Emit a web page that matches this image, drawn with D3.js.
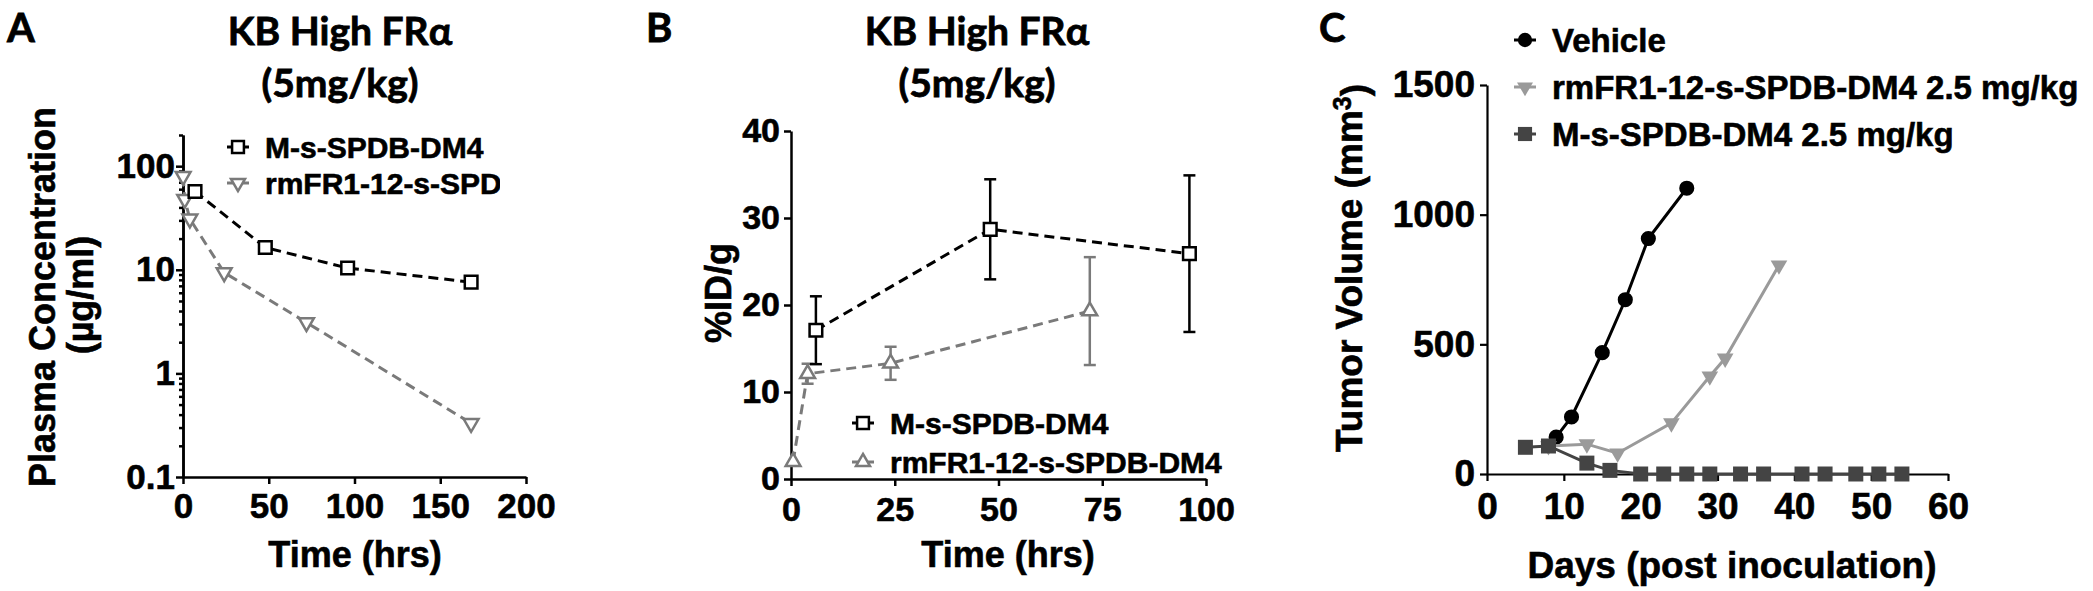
<!DOCTYPE html>
<html>
<head>
<meta charset="utf-8">
<script src="https://cdnjs.cloudflare.com/ajax/libs/d3/7.8.5/d3.min.js"></script>
<style>
body { margin: 0; background: #fff; }
svg text { font-family: "Liberation Sans", Arial, sans-serif; font-weight: bold; fill: #000; stroke: #000; stroke-width: 0.6px; }
svg text.ttl { font-family: Lato, "Open Sans", sans-serif; stroke-width: 0.8px; }
</style>
</head>
<body>
<script>
// panel A : plasma concentration, log axis
const namesA = ["M-s-SPDB-DM4", "rmFR1-12-s-SPDB-DM4"];
const timeA_M = [7, 48, 96, 168];
const concA_M = [57, 16.4, 10.4, 7.6];
const timeA_R = [0.08, 1, 4, 24, 72, 168];
const concA_R = [80, 48, 31, 9.4, 3.1, 0.33];
const ticksA_x = [0, 50, 100, 150, 200];
const ticksA_y = [0.1, 1, 10, 100];

// panel B : %ID/g with error bars
const namesB = ["M-s-SPDB-DM4", "rmFR1-12-s-SPDB-DM4"];
const timeB_M = [6, 48, 96];
const meanB_M = [17.1, 28.7, 25.9];
const sdB_M = [3.9, 5.75, 9.0];
const timeB_R = [0.5, 4, 24, 72];
const meanB_R = [2.0, 12.1, 13.3, 19.3];
const sdB_R = [0, 1.15, 1.9, 6.2];
const ticksB_x = [0, 25, 50, 75, 100];
const ticksB_y = [0, 10, 20, 30, 40];

// panel C : tumor volume
const namesC = ["Vehicle", "rmFR1-12-s-SPDB-DM4 2.5 mg/kg", "M-s-SPDB-DM4 2.5 mg/kg"];
const daysVeh = [9, 11, 15, 18, 21, 26];
const volVeh = [142, 220, 468, 672, 908, 1102];
const daysR = [8, 13, 17, 24, 29, 31, 38];
const volR = [108, 115, 80, 196, 377, 446, 805];
const daysM = [5, 8, 13, 16, 20, 23, 26, 29, 33, 36, 41, 44, 48, 51, 54];
const volM = [103, 108, 42, 14, 0, 0, 0, 0, 0, 0, 0, 0, 0, 0, 0];
const ticksC_x = [0, 10, 20, 30, 40, 50, 60];
const ticksC_y = [0, 500, 1000, 1500];

const GRAY = "#7a7a7a", LIGHT = "#9a9a9a", DARK = "#444";

let svg = d3.select("body").append("svg").attr("width", 2093).attr("height", 591);
svg.append("rect").attr("width", 2093).attr("height", 591).attr("fill", "#fff");

function styleAxis(g, fs, sw) {
    g.attr("font-family", null).attr("font-size", null);
    g.select(".domain").attr("stroke", "#000").attr("stroke-width", sw);
    g.selectAll(".tick line").attr("stroke", "#000").attr("stroke-width", sw);
    g.selectAll(".tick text").style("font-size", fs + "px");
}

function drawMarkers(g, xs, ys, x, y, type, size, stroke, fill, down) {
    g.selectAll(null).data(d3.zip(xs, ys)).join("path")
        .attr("d", d3.symbol().type(type).size(size))
        .attr("transform", d => "translate(" + x(d[0]) + "," + y(d[1]) + ")" + (down ? " rotate(180)" : ""))
        .attr("fill", fill).attr("stroke", stroke).attr("stroke-width", fill == "#fff" ? 2.5 : 0);
}

function drawLine(g, xs, ys, x, y, color, dash, w) {
    g.append("path").datum(d3.zip(xs, ys))
        .attr("d", d3.line().x(d => x(d[0])).y(d => y(d[1])))
        .attr("fill", "none").attr("stroke", color).attr("stroke-width", w)
        .attr("stroke-dasharray", dash);
}

function title(cx, lines) {
    lines.forEach((t, i) => {
        svg.append("text").attr("class", "ttl").attr("x", cx).attr("y", 45 + i * 52)
            .attr("text-anchor", "middle").style("font-size", "39px").text(t);
    });
}

function panelLetter(x, t) {
    svg.append("text").attr("class", "ttl").attr("x", x).attr("y", 42).style("font-size", "40px").text(t);
}

function legendRow(g, x, y, color, type, size, fill, down, label, fs) {
    g.append("line").attr("x1", x - 11).attr("x2", x + 11).attr("y1", y).attr("y2", y)
        .attr("stroke", color).attr("stroke-width", 3);
    g.append("path").attr("d", d3.symbol().type(type).size(size))
        .attr("transform", "translate(" + x + "," + y + ")" + (down ? " rotate(180)" : ""))
        .attr("fill", fill).attr("stroke", color).attr("stroke-width", fill == "#fff" ? 2.5 : 0);
    g.append("text").attr("x", x + 27).attr("y", y).attr("dy", "0.36em")
        .style("font-size", fs + "px").text(label);
}

// ---------- panel A ----------
let xA = d3.scaleLinear().domain([0, 200]).range([183, 526]);
let yA = d3.scaleLog().domain([0.1, 200]).range([477, 135]);
let minorA = [];
[0.1, 1, 10, 100].forEach(d => { for (let k = 2; k <= 9; k++) if (d * k <= 200) minorA.push(d * k); });

let gA = svg.append("g");
gA.append("g").attr("transform", "translate(183,0)")
    .call(d3.axisLeft(yA).tickValues(minorA).tickFormat("").tickSize(4).tickSizeOuter(0))
    .call(g => styleAxis(g, 35, 2.5));
gA.append("g").attr("transform", "translate(183,0)")
    .call(d3.axisLeft(yA).tickValues(ticksA_y).tickFormat(d => String(d)).tickSize(7).tickPadding(1).tickSizeOuter(0))
    .call(g => styleAxis(g, 35, 2.5));
gA.append("g").attr("transform", "translate(0,477)")
    .call(d3.axisBottom(xA).tickValues(ticksA_x).tickSize(7).tickPadding(9).tickSizeOuter(0))
    .call(g => styleAxis(g, 35, 2.5));

drawLine(gA, timeA_R, concA_R, xA, yA, GRAY, "10,6", 3);
drawLine(gA, timeA_M, concA_M, xA, yA, "#000", "10,6", 3);
drawMarkers(gA, timeA_R, concA_R, xA, yA, d3.symbolTriangle, 95, GRAY, "#fff", true);
drawMarkers(gA, timeA_M, concA_M, xA, yA, d3.symbolSquare, 160, "#000", "#fff", false);

svg.append("clipPath").attr("id", "clipA").append("rect").attr("x", 0).attr("y", 0).attr("width", 500).attr("height", 591);
let legA = gA.append("g").attr("clip-path", "url(#clipA)");
legendRow(legA, 238, 147, "#000", d3.symbolSquare, 140, "#fff", false, namesA[0], 30);
legendRow(legA, 238, 183, GRAY, d3.symbolTriangle, 85, "#fff", true, namesA[1], 30);

gA.append("text").attr("transform", "translate(55,297) rotate(-90)").attr("text-anchor", "middle")
    .style("font-size", "36px").text("Plasma Concentration");
gA.append("text").attr("transform", "translate(93,295) rotate(-90)").attr("text-anchor", "middle")
    .style("font-size", "36px").text("(µg/ml)");
gA.append("text").attr("x", 355).attr("y", 567).attr("text-anchor", "middle").style("font-size", "36px").text("Time (hrs)");
title(340, ["KB High FRα", "(5mg/kg)"]);
panelLetter(7, "A");

// ---------- panel B ----------
let xB = d3.scaleLinear().domain([0, 100]).range([791, 1206]);
let yB = d3.scaleLinear().domain([0, 40]).range([479, 131]);
let gB = svg.append("g");
gB.append("g").attr("transform", "translate(791,0)")
    .call(d3.axisLeft(yB).tickValues(ticksB_y).tickSize(7).tickPadding(4).tickSizeOuter(0))
    .call(g => styleAxis(g, 34, 2.5));
gB.append("g").attr("transform", "translate(0,479)")
    .call(d3.axisBottom(xB).tickValues(ticksB_x).tickSize(7).tickPadding(11).tickSizeOuter(0))
    .call(g => styleAxis(g, 34, 2.5));

function errBars(g, xs, ms, sds, color) {
    let rows = d3.zip(xs, ms, sds).filter(d => d[2] > 0);
    let eb = g.append("g").attr("stroke", color).attr("stroke-width", 2.5);
    eb.selectAll(null).data(rows).join("line")
        .attr("x1", d => xB(d[0])).attr("x2", d => xB(d[0]))
        .attr("y1", d => yB(d[1] - d[2])).attr("y2", d => yB(d[1] + d[2]));
    [-1, 1].forEach(s => {
        eb.selectAll(null).data(rows).join("line")
            .attr("x1", d => xB(d[0]) - 6).attr("x2", d => xB(d[0]) + 6)
            .attr("y1", d => yB(d[1] + s * d[2])).attr("y2", d => yB(d[1] + s * d[2]));
    });
}
errBars(gB, timeB_R, meanB_R, sdB_R, GRAY);
errBars(gB, timeB_M, meanB_M, sdB_M, "#000");
drawLine(gB, timeB_R, meanB_R, xB, yB, GRAY, "10,6", 3);
drawLine(gB, timeB_M, meanB_M, xB, yB, "#000", "10,6", 3);
drawMarkers(gB, timeB_R, meanB_R, xB, yB, d3.symbolTriangle, 95, GRAY, "#fff", false);
drawMarkers(gB, timeB_M, meanB_M, xB, yB, d3.symbolSquare, 160, "#000", "#fff", false);

legendRow(gB, 863, 423, "#000", d3.symbolSquare, 140, "#fff", false, namesB[0], 30);
legendRow(gB, 863, 462, GRAY, d3.symbolTriangle, 85, "#fff", false, namesB[1], 30);

gB.append("text").attr("transform", "translate(731,293) rotate(-90)").attr("text-anchor", "middle")
    .style("font-size", "36px").text("%ID/g");
gB.append("text").attr("x", 1008).attr("y", 567).attr("text-anchor", "middle").style("font-size", "36px").text("Time (hrs)");
title(977, ["KB High FRα", "(5mg/kg)"]);
panelLetter(646, "B");

// ---------- panel C ----------
let xC = d3.scaleLinear().domain([0, 60]).range([1487, 1948]);
let yC = d3.scaleLinear().domain([0, 1500]).range([474, 85]);
let gC = svg.append("g");
gC.append("g").attr("transform", "translate(1487,0)")
    .call(d3.axisLeft(yC).tickValues(ticksC_y).tickFormat(d3.format("d")).tickSize(7).tickPadding(5).tickSizeOuter(0))
    .call(g => styleAxis(g, 37, 2.2));
gC.append("g").attr("transform", "translate(0,474)")
    .call(d3.axisBottom(xC).tickValues(ticksC_x).tickSize(7).tickPadding(12).tickSizeOuter(0))
    .call(g => styleAxis(g, 37, 2.2));

drawLine(gC, daysVeh, volVeh, xC, yC, "#000", null, 3);
drawMarkers(gC, daysVeh, volVeh, xC, yC, d3.symbolCircle, 180, "#000", "#000", false);
drawLine(gC, daysR, volR, xC, yC, LIGHT, null, 3);
drawMarkers(gC, daysR, volR, xC, yC, d3.symbolTriangle, 120, LIGHT, LIGHT, true);
drawLine(gC, daysM, volM, xC, yC, DARK, null, 3);
drawMarkers(gC, daysM, volM, xC, yC, d3.symbolSquare, 225, DARK, DARK, false);

legendRow(gC, 1525, 40, "#000", d3.symbolCircle, 160, "#000", false, namesC[0], 33);
legendRow(gC, 1525, 87, LIGHT, d3.symbolTriangle, 110, LIGHT, true, namesC[1], 33);
legendRow(gC, 1525, 134, DARK, d3.symbolSquare, 200, DARK, false, namesC[2], 33);

let yt = gC.append("text").attr("transform", "translate(1362,268) rotate(-90)").attr("text-anchor", "middle")
    .style("font-size", "37px");
yt.append("tspan").text("Tumor Volume (mm");
yt.append("tspan").attr("dy", "-0.45em").style("font-size", "25px").text("3");
yt.append("tspan").attr("dy", "0.45em").text(")");
gC.append("text").attr("x", 1732).attr("y", 578).attr("text-anchor", "middle").style("font-size", "37px").text("Days (post inoculation)");
panelLetter(1319, "C");
</script>
</body>
</html>
